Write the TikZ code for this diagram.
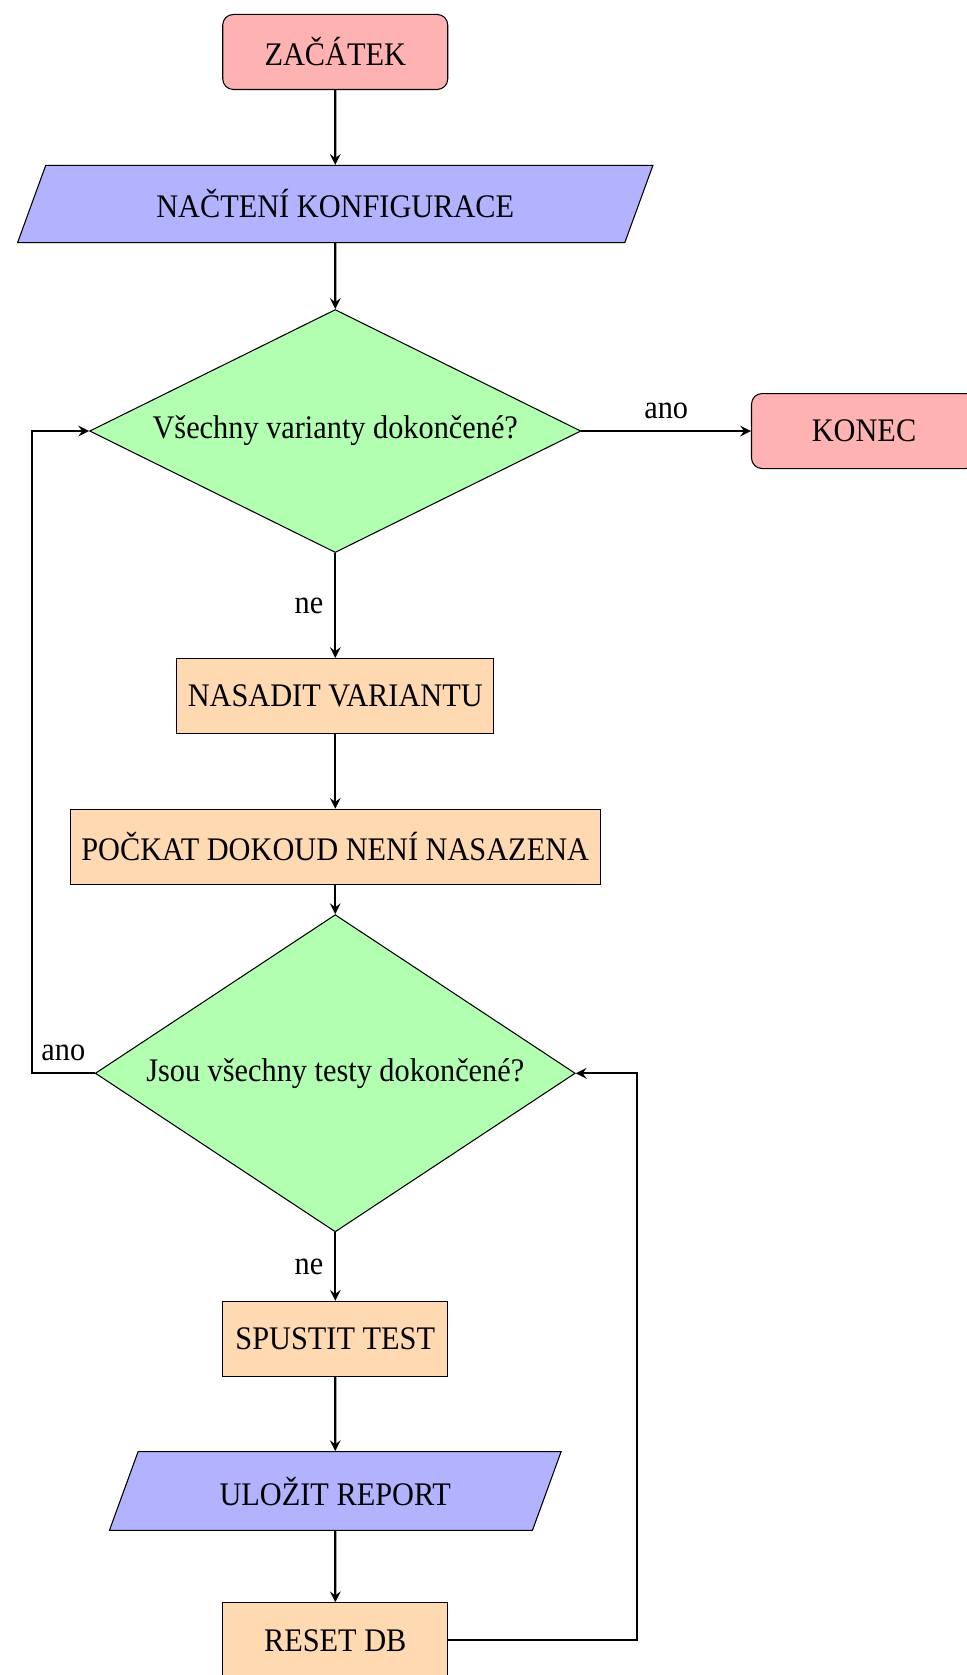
\documentclass[tikz,border=0pt]{standalone}
\usepackage{fontspec}
\setmainfont[FakeStretch=0.92]{Liberation Serif}
\usetikzlibrary{shapes.geometric, arrows}

\tikzset{
	startstop/.style={rectangle, rounded corners, minimum width=3cm, minimum height=1cm, text centered, draw=black, fill=red!30},
	io/.style={trapezium, trapezium left angle=70, trapezium right angle=110, minimum height=1cm, text centered, draw=black, fill=blue!30},
	process/.style={rectangle, minimum width=3cm, minimum height=1cm, text centered, draw=black, fill=orange!30},
	decision/.style={diamond, inner sep=0pt, text centered, draw=black, fill=green!30},
	arrow/.style={thick, ->, >=stealth}
}

\begin{document}
\fontsize{12.5}{15}\selectfont
\begin{tikzpicture}
	
	% frame
	\useasboundingbox (0,0) rectangle (12.88,-22.333);

	% nodes
	\node (start) [startstop] at (4.47,-0.693) {ZAČÁTEK};
	\node (in1) [io, minimum width=8.49cm] at (4.47,-2.72) {NAČTENÍ KONFIGURACE};
	\node (dec1) [decision, aspect=2, minimum width=6.55cm, minimum height=3.24cm] at (4.47,-5.747) {Všechny varianty dokončené?};
	\node (stop) [startstop] at (11.52,-5.747) {KONEC};
	\node (pro1) [process] at (4.47,-9.28) {NASADIT VARIANTU};
	\node (pro2) [process] at (4.47,-11.29) {POČKAT DOKOUD NENÍ NASAZENA};
	\node (dec2) [decision, aspect=1.5, minimum width=6.4cm, minimum height=4.23cm] at (4.47,-14.31) {Jsou všechny testy dokončené?};
	\node (pro3) [process] at (4.47,-17.85) {SPUSTIT TEST};
	\node (out1) [io, minimum width=6.03cm] at (4.47,-19.88) {ULOŽIT REPORT};
	\node (pro4) [process] at (4.47,-21.87) {RESET DB};

	% loop corners
	\coordinate (left) at (0.427,-14.31);
	\coordinate (right) at (8.49,-21.87);

	% arrows
	\draw [arrow] (start) -- (in1);
	\draw [arrow] (in1) -- (dec1);
	\draw [arrow] (dec1) -- node[anchor=south] {ano} (stop);
	\draw [arrow] (dec1) -- node[anchor=east] {ne} (pro1);
	\draw [arrow] (pro1) -- (pro2);
	\draw [arrow] (pro2) -- (dec2);
	\draw [arrow] (dec2.west) -- node[anchor=south] {ano} (left) |- (dec1.west);
	\draw [arrow] (dec2) -- node[anchor=east] {ne} (pro3);
	\draw [arrow] (pro3) -- (out1);
	\draw [arrow] (out1) -- (pro4);
	\draw [arrow] (pro4.east) -- (right) |- (dec2.east);

\end{tikzpicture}
\end{document}
